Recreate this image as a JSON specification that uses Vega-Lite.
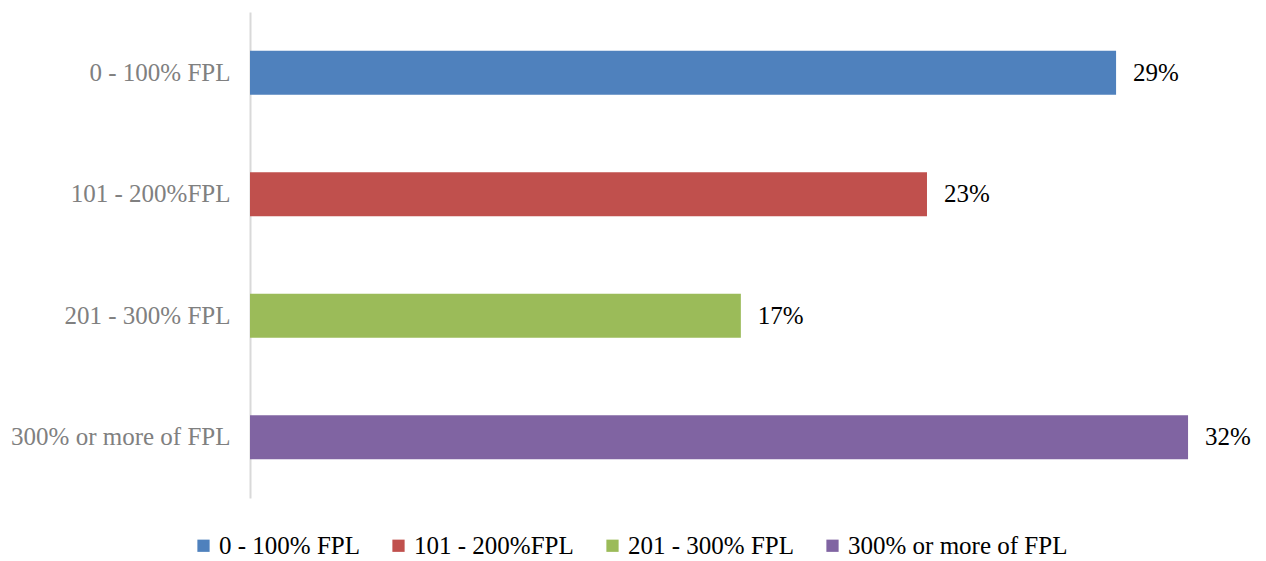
{
  "$schema": "https://vega.github.io/schema/vega-lite/v6.json",
  "autosize": "none",
  "width": 1000,
  "height": 486,
  "padding": {"left": 250, "top": 12, "right": 16, "bottom": 63},
  "background": "white",
  "config": {
    "view": {"stroke": null},
    "font": "Liberation Serif"
  },
  "data": {
    "values": [
      {"group": "0 - 100% FPL", "share": 0.2936},
      {"group": "101 - 200%FPL", "share": 0.2295},
      {"group": "201 - 300% FPL", "share": 0.1664},
      {"group": "300% or more of FPL", "share": 0.318}
    ]
  },
  "encoding": {
    "y": {
      "field": "group",
      "type": "nominal",
      "sort": null,
      "scale": {"paddingInner": 0.638, "paddingOuter": 0.319},
      "axis": {
        "title": null,
        "ticks": false,
        "domainColor": "#d9d9d9",
        "domainWidth": 2,
        "labelFont": "Liberation Serif",
        "labelFontSize": 25,
        "labelColor": "#808080",
        "labelPadding": 20,
        "labelLimit": 400
      }
    },
    "x": {
      "field": "share",
      "type": "quantitative",
      "scale": {"domain": [0, 0.339], "nice": false},
      "axis": null
    }
  },
  "layer": [
    {
      "mark": {"type": "bar"},
      "encoding": {
        "color": {
          "field": "group",
          "type": "nominal",
          "sort": null,
          "scale": {
            "domain": ["0 - 100% FPL", "101 - 200%FPL", "201 - 300% FPL", "300% or more of FPL"],
            "range": ["#4F81BD", "#C0504D", "#9BBB59", "#8064A2"]
          },
          "legend": {
            "title": null,
            "orient": "none",
            "legendX": -59,
            "legendY": 521,
            "direction": "horizontal",
            "columns": 4,
            "symbolType": "square",
            "symbolSize": 150,
            "symbolStrokeWidth": 0,
            "labelFont": "Liberation Serif",
            "labelFontSize": 25,
            "labelColor": "#000000",
            "labelOffset": 3,
            "columnPadding": 26,
            "labelLimit": 400
          }
        }
      }
    },
    {
      "mark": {
        "type": "text",
        "align": "left",
        "baseline": "middle",
        "dx": 17,
        "font": "Liberation Serif",
        "fontSize": 25,
        "color": "#000000"
      },
      "encoding": {
        "text": {"field": "share", "type": "quantitative", "format": ".0%"}
      }
    }
  ]
}
